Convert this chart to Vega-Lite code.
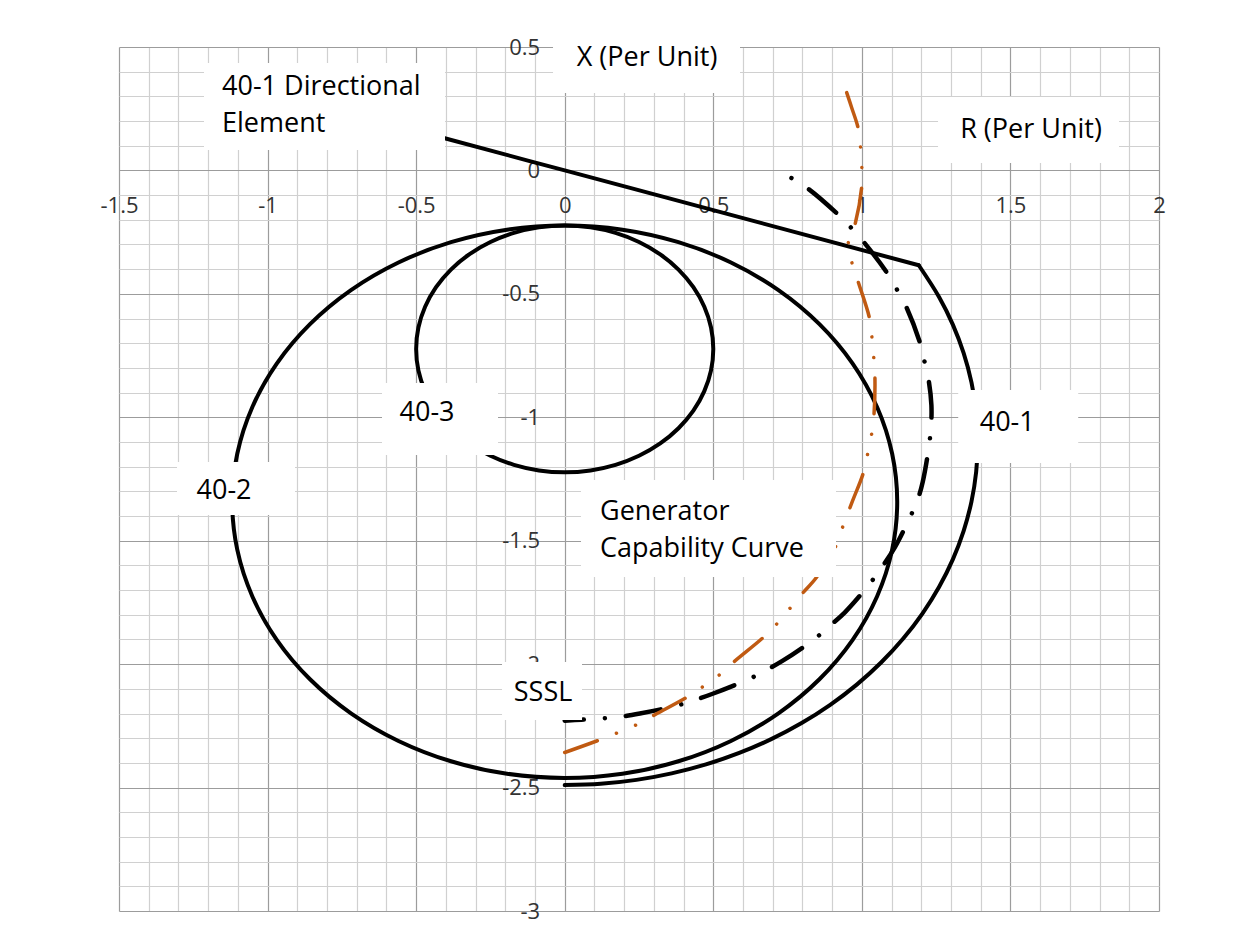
{
  "$schema": "https://vega.github.io/schema/vega-lite/v6.json",
  "width": 1040,
  "height": 864,
  "autosize": {"type": "none"},
  "padding": {"left": 119, "top": 47, "right": 92, "bottom": 26},
  "background": "white",
  "config": {"view": {"stroke": null}, "font": "Open Sans"},
  "datasets": {
    "curves": [
      {"curve": "40-2", "i": 0, "R": 0, "X": -0.223},
      {"curve": "40-2", "i": 1, "R": 0.1943, "X": -0.24},
      {"curve": "40-2", "i": 2, "R": 0.3827, "X": -0.2905},
      {"curve": "40-2", "i": 3, "R": 0.5595, "X": -0.3729},
      {"curve": "40-2", "i": 4, "R": 0.7193, "X": -0.4848},
      {"curve": "40-2", "i": 5, "R": 0.8572, "X": -0.6227},
      {"curve": "40-2", "i": 6, "R": 0.9691, "X": -0.7825},
      {"curve": "40-2", "i": 7, "R": 1.0515, "X": -0.9593},
      {"curve": "40-2", "i": 8, "R": 1.102, "X": -1.1477},
      {"curve": "40-2", "i": 9, "R": 1.119, "X": -1.342},
      {"curve": "40-2", "i": 10, "R": 1.102, "X": -1.5363},
      {"curve": "40-2", "i": 11, "R": 1.0515, "X": -1.7247},
      {"curve": "40-2", "i": 12, "R": 0.9691, "X": -1.9015},
      {"curve": "40-2", "i": 13, "R": 0.8572, "X": -2.0613},
      {"curve": "40-2", "i": 14, "R": 0.7193, "X": -2.1992},
      {"curve": "40-2", "i": 15, "R": 0.5595, "X": -2.3111},
      {"curve": "40-2", "i": 16, "R": 0.3827, "X": -2.3935},
      {"curve": "40-2", "i": 17, "R": 0.1943, "X": -2.444},
      {"curve": "40-2", "i": 18, "R": 0, "X": -2.461},
      {"curve": "40-2", "i": 19, "R": -0.1943, "X": -2.444},
      {"curve": "40-2", "i": 20, "R": -0.3827, "X": -2.3935},
      {"curve": "40-2", "i": 21, "R": -0.5595, "X": -2.3111},
      {"curve": "40-2", "i": 22, "R": -0.7193, "X": -2.1992},
      {"curve": "40-2", "i": 23, "R": -0.8572, "X": -2.0613},
      {"curve": "40-2", "i": 24, "R": -0.9691, "X": -1.9015},
      {"curve": "40-2", "i": 25, "R": -1.0515, "X": -1.7247},
      {"curve": "40-2", "i": 26, "R": -1.102, "X": -1.5363},
      {"curve": "40-2", "i": 27, "R": -1.119, "X": -1.342},
      {"curve": "40-2", "i": 28, "R": -1.102, "X": -1.1477},
      {"curve": "40-2", "i": 29, "R": -1.0515, "X": -0.9593},
      {"curve": "40-2", "i": 30, "R": -0.9691, "X": -0.7825},
      {"curve": "40-2", "i": 31, "R": -0.8572, "X": -0.6227},
      {"curve": "40-2", "i": 32, "R": -0.7193, "X": -0.4848},
      {"curve": "40-2", "i": 33, "R": -0.5595, "X": -0.3729},
      {"curve": "40-2", "i": 34, "R": -0.3827, "X": -0.2905},
      {"curve": "40-2", "i": 35, "R": -0.1943, "X": -0.24},
      {"curve": "40-3", "i": 0, "R": 0, "X": -0.223},
      {"curve": "40-3", "i": 1, "R": 0.0868, "X": -0.2306},
      {"curve": "40-3", "i": 2, "R": 0.171, "X": -0.2532},
      {"curve": "40-3", "i": 3, "R": 0.25, "X": -0.29},
      {"curve": "40-3", "i": 4, "R": 0.3214, "X": -0.34},
      {"curve": "40-3", "i": 5, "R": 0.383, "X": -0.4016},
      {"curve": "40-3", "i": 6, "R": 0.433, "X": -0.473},
      {"curve": "40-3", "i": 7, "R": 0.4698, "X": -0.552},
      {"curve": "40-3", "i": 8, "R": 0.4924, "X": -0.6362},
      {"curve": "40-3", "i": 9, "R": 0.5, "X": -0.723},
      {"curve": "40-3", "i": 10, "R": 0.4924, "X": -0.8098},
      {"curve": "40-3", "i": 11, "R": 0.4698, "X": -0.894},
      {"curve": "40-3", "i": 12, "R": 0.433, "X": -0.973},
      {"curve": "40-3", "i": 13, "R": 0.383, "X": -1.0444},
      {"curve": "40-3", "i": 14, "R": 0.3214, "X": -1.106},
      {"curve": "40-3", "i": 15, "R": 0.25, "X": -1.156},
      {"curve": "40-3", "i": 16, "R": 0.171, "X": -1.1928},
      {"curve": "40-3", "i": 17, "R": 0.0868, "X": -1.2154},
      {"curve": "40-3", "i": 18, "R": 0, "X": -1.223},
      {"curve": "40-3", "i": 19, "R": -0.0868, "X": -1.2154},
      {"curve": "40-3", "i": 20, "R": -0.171, "X": -1.1928},
      {"curve": "40-3", "i": 21, "R": -0.25, "X": -1.156},
      {"curve": "40-3", "i": 22, "R": -0.3214, "X": -1.106},
      {"curve": "40-3", "i": 23, "R": -0.383, "X": -1.0444},
      {"curve": "40-3", "i": 24, "R": -0.433, "X": -0.973},
      {"curve": "40-3", "i": 25, "R": -0.4698, "X": -0.894},
      {"curve": "40-3", "i": 26, "R": -0.4924, "X": -0.8098},
      {"curve": "40-3", "i": 27, "R": -0.5, "X": -0.723},
      {"curve": "40-3", "i": 28, "R": -0.4924, "X": -0.6362},
      {"curve": "40-3", "i": 29, "R": -0.4698, "X": -0.552},
      {"curve": "40-3", "i": 30, "R": -0.433, "X": -0.473},
      {"curve": "40-3", "i": 31, "R": -0.383, "X": -0.4016},
      {"curve": "40-3", "i": 32, "R": -0.3214, "X": -0.34},
      {"curve": "40-3", "i": 33, "R": -0.25, "X": -0.29},
      {"curve": "40-3", "i": 34, "R": -0.171, "X": -0.2532},
      {"curve": "40-3", "i": 35, "R": -0.0868, "X": -0.2306},
      {"curve": "40-1 Directional", "i": 0, "R": -0.41, "X": 0.1322},
      {"curve": "40-1 Directional", "i": 1, "R": 0, "X": 0},
      {"curve": "40-1 Directional", "i": 2, "R": 1.1915, "X": -0.3841},
      {"curve": "40-1", "i": 0, "R": 1.1915, "X": -0.3841},
      {"curve": "40-1", "i": 1, "R": 1.2598, "X": -0.5126},
      {"curve": "40-1", "i": 2, "R": 1.3062, "X": -0.6246},
      {"curve": "40-1", "i": 3, "R": 1.3426, "X": -0.7403},
      {"curve": "40-1", "i": 4, "R": 1.3689, "X": -0.8586},
      {"curve": "40-1", "i": 5, "R": 1.3847, "X": -0.9789},
      {"curve": "40-1", "i": 6, "R": 1.39, "X": -1.1},
      {"curve": "40-1", "i": 7, "R": 1.3847, "X": -1.2211},
      {"curve": "40-1", "i": 8, "R": 1.3689, "X": -1.3414},
      {"curve": "40-1", "i": 9, "R": 1.3426, "X": -1.4597},
      {"curve": "40-1", "i": 10, "R": 1.3062, "X": -1.5754},
      {"curve": "40-1", "i": 11, "R": 1.2598, "X": -1.6874},
      {"curve": "40-1", "i": 12, "R": 1.2038, "X": -1.795},
      {"curve": "40-1", "i": 13, "R": 1.1386, "X": -1.8973},
      {"curve": "40-1", "i": 14, "R": 1.0648, "X": -1.9935},
      {"curve": "40-1", "i": 15, "R": 0.9829, "X": -2.0829},
      {"curve": "40-1", "i": 16, "R": 0.8935, "X": -2.1648},
      {"curve": "40-1", "i": 17, "R": 0.7973, "X": -2.2386},
      {"curve": "40-1", "i": 18, "R": 0.695, "X": -2.3038},
      {"curve": "40-1", "i": 19, "R": 0.5874, "X": -2.3598},
      {"curve": "40-1", "i": 20, "R": 0.4754, "X": -2.4062},
      {"curve": "40-1", "i": 21, "R": 0.3597, "X": -2.4426},
      {"curve": "40-1", "i": 22, "R": 0.2414, "X": -2.4689},
      {"curve": "40-1", "i": 23, "R": 0.1211, "X": -2.4847},
      {"curve": "40-1", "i": 24, "R": 0, "X": -2.49},
      {"curve": "Generator Capability Curve", "i": 0, "R": 0.763, "X": -0.031},
      {"curve": "Generator Capability Curve", "i": 1, "R": 0.818, "X": -0.073},
      {"curve": "Generator Capability Curve", "i": 2, "R": 0.916, "X": -0.174},
      {"curve": "Generator Capability Curve", "i": 3, "R": 0.963, "X": -0.231},
      {"curve": "Generator Capability Curve", "i": 4, "R": 1.007, "X": -0.291},
      {"curve": "Generator Capability Curve", "i": 5, "R": 1.083, "X": -0.412},
      {"curve": "Generator Capability Curve", "i": 6, "R": 1.117, "X": -0.48},
      {"curve": "Generator Capability Curve", "i": 7, "R": 1.15, "X": -0.554},
      {"curve": "Generator Capability Curve", "i": 8, "R": 1.195, "X": -0.696},
      {"curve": "Generator Capability Curve", "i": 9, "R": 1.21, "X": -0.77},
      {"curve": "Generator Capability Curve", "i": 10, "R": 1.225, "X": -0.851},
      {"curve": "Generator Capability Curve", "i": 11, "R": 1.234, "X": -0.95},
      {"curve": "Generator Capability Curve", "i": 12, "R": 1.233, "X": -1.034},
      {"curve": "Generator Capability Curve", "i": 13, "R": 1.226, "X": -1.115},
      {"curve": "Generator Capability Curve", "i": 14, "R": 1.205, "X": -1.261},
      {"curve": "Generator Capability Curve", "i": 15, "R": 1.186, "X": -1.34},
      {"curve": "Generator Capability Curve", "i": 16, "R": 1.158, "X": -1.415},
      {"curve": "Generator Capability Curve", "i": 17, "R": 1.111, "X": -1.527},
      {"curve": "Generator Capability Curve", "i": 18, "R": 1.064, "X": -1.613},
      {"curve": "Generator Capability Curve", "i": 19, "R": 1.024, "X": -1.678},
      {"curve": "Generator Capability Curve", "i": 20, "R": 0.943, "X": -1.79},
      {"curve": "Generator Capability Curve", "i": 21, "R": 0.891, "X": -1.846},
      {"curve": "Generator Capability Curve", "i": 22, "R": 0.842, "X": -1.897},
      {"curve": "Generator Capability Curve", "i": 23, "R": 0.734, "X": -1.986},
      {"curve": "Generator Capability Curve", "i": 24, "R": 0.68, "X": -2.023},
      {"curve": "Generator Capability Curve", "i": 25, "R": 0.623, "X": -2.059},
      {"curve": "Generator Capability Curve", "i": 26, "R": 0.498, "X": -2.12},
      {"curve": "Generator Capability Curve", "i": 27, "R": 0.441, "X": -2.144},
      {"curve": "Generator Capability Curve", "i": 28, "R": 0.377, "X": -2.168},
      {"curve": "Generator Capability Curve", "i": 29, "R": 0.253, "X": -2.2},
      {"curve": "Generator Capability Curve", "i": 30, "R": 0.189, "X": -2.213},
      {"curve": "Generator Capability Curve", "i": 31, "R": 0.124, "X": -2.22},
      {"curve": "Generator Capability Curve", "i": 32, "R": 0.056, "X": -2.225},
      {"curve": "Generator Capability Curve", "i": 33, "R": 0, "X": -2.229},
      {"curve": "SSSL", "i": 0, "R": 0.949, "X": 0.315},
      {"curve": "SSSL", "i": 1, "R": 0.965, "X": 0.257},
      {"curve": "SSSL", "i": 2, "R": 0.988, "X": 0.169},
      {"curve": "SSSL", "i": 3, "R": 0.996, "X": 0.088},
      {"curve": "SSSL", "i": 4, "R": 1.0, "X": 0.007},
      {"curve": "SSSL", "i": 5, "R": 0.999, "X": -0.072},
      {"curve": "SSSL", "i": 6, "R": 0.976, "X": -0.223},
      {"curve": "SSSL", "i": 7, "R": 0.954, "X": -0.297},
      {"curve": "SSSL", "i": 8, "R": 0.967, "X": -0.376},
      {"curve": "SSSL", "i": 9, "R": 0.988, "X": -0.453},
      {"curve": "SSSL", "i": 10, "R": 1.025, "X": -0.595},
      {"curve": "SSSL", "i": 11, "R": 1.034, "X": -0.676},
      {"curve": "SSSL", "i": 12, "R": 1.04, "X": -0.757},
      {"curve": "SSSL", "i": 13, "R": 1.044, "X": -0.838},
      {"curve": "SSSL", "i": 14, "R": 1.041, "X": -0.986},
      {"curve": "SSSL", "i": 15, "R": 1.033, "X": -1.067},
      {"curve": "SSSL", "i": 16, "R": 1.019, "X": -1.151},
      {"curve": "SSSL", "i": 17, "R": 1.004, "X": -1.229},
      {"curve": "SSSL", "i": 18, "R": 0.969, "X": -1.338},
      {"curve": "SSSL", "i": 19, "R": 0.935, "X": -1.446},
      {"curve": "SSSL", "i": 20, "R": 0.913, "X": -1.52},
      {"curve": "SSSL", "i": 21, "R": 0.847, "X": -1.649},
      {"curve": "SSSL", "i": 22, "R": 0.8, "X": -1.713},
      {"curve": "SSSL", "i": 23, "R": 0.758, "X": -1.774},
      {"curve": "SSSL", "i": 24, "R": 0.713, "X": -1.838},
      {"curve": "SSSL", "i": 25, "R": 0.668, "X": -1.892},
      {"curve": "SSSL", "i": 26, "R": 0.567, "X": -1.993},
      {"curve": "SSSL", "i": 27, "R": 0.52, "X": -2.044},
      {"curve": "SSSL", "i": 28, "R": 0.464, "X": -2.092},
      {"curve": "SSSL", "i": 29, "R": 0.41, "X": -2.135},
      {"curve": "SSSL", "i": 30, "R": 0.297, "X": -2.209},
      {"curve": "SSSL", "i": 31, "R": 0.239, "X": -2.247},
      {"curve": "SSSL", "i": 32, "R": 0.176, "X": -2.279},
      {"curve": "SSSL", "i": 33, "R": 0.115, "X": -2.308},
      {"curve": "SSSL", "i": 34, "R": 0, "X": -2.358}
    ],
    "labels": [
      {"label": "40-1 Directional\nElement", "multi": true, "R": -1.1533, "X": 0.3378},
      {"label": "Generator\nCapability Curve", "multi": true, "R": 0.1188, "X": -1.3838},
      {"label": "X (Per Unit)", "multi": false, "R": 0.277, "X": 0.4553},
      {"label": "R (Per Unit)", "multi": false, "R": 1.5693, "X": 0.1637},
      {"label": "40-3", "multi": false, "R": -0.4634, "X": -0.9828},
      {"label": "40-1", "multi": false, "R": 1.4892, "X": -1.0232},
      {"label": "40-2", "multi": false, "R": -1.1466, "X": -1.2987},
      {"label": "SSSL", "multi": false, "R": -0.073, "X": -2.117}
    ]
  },
  "layer": [
    {
      "data": {"name": "curves"},
      "transform": [{"filter": "datum.curve === '40-2' || datum.curve === '40-3'"}],
      "mark": {"type": "line", "interpolate": "cardinal-closed", "stroke": "black", "strokeWidth": 4},
      "encoding": {
        "x": {
          "field": "R", "type": "quantitative",
          "scale": {"domain": [-1.5, 2], "nice": false, "zero": false},
          "axis": {
            "orient": "bottom", "offset": -740.6, "title": null, "tickCount": 200,
            "values": [-1.5,-1.4,-1.3,-1.2,-1.1,-1,-0.9,-0.8,-0.7,-0.6,-0.5,-0.4,-0.3,-0.2,-0.1,0,0.1,0.2,0.3,0.4,0.5,0.6,0.7,0.8,0.9,1,1.1,1.2,1.3,1.4,1.5,1.6,1.7,1.8,1.9,2],
            "grid": true,
            "gridColor": {"condition": {"test": "abs(datum.value*2-round(datum.value*2))<1e-6", "value": "#9c9c9c"}, "value": "#d0d0d0"},
            "gridWidth": 1.2,
            "domain": false, "ticks": false,
            "labelExpr": "abs(datum.value*2-round(datum.value*2))<1e-6 ? ''+datum.value : ''",
            "labelPadding": 35, "labelBaseline": "middle", "labelAlign": "center",
            "labelFontSize": 22, "labelFont": "Open Sans", "labelColor": "#333333",
            "labelOverlap": false, "labelFlush": false, "labelBound": false
          }
        },
        "y": {
          "field": "X", "type": "quantitative",
          "scale": {"domain": [-3, 0.5], "nice": false, "zero": false},
          "axis": {
            "orient": "left", "offset": -445.7, "title": null, "tickCount": 200,
            "values": [-3,-2.9,-2.8,-2.7,-2.6,-2.5,-2.4,-2.3,-2.2,-2.1,-2,-1.9,-1.8,-1.7,-1.6,-1.5,-1.4,-1.3,-1.2,-1.1,-1,-0.9,-0.8,-0.7,-0.6,-0.5,-0.4,-0.3,-0.2,-0.1,0,0.1,0.2,0.3,0.4,0.5],
            "grid": true,
            "gridColor": {"condition": {"test": "abs(datum.value*2-round(datum.value*2))<1e-6", "value": "#9c9c9c"}, "value": "#d0d0d0"},
            "gridWidth": 1.2,
            "domain": false, "ticks": false,
            "labelExpr": "abs(datum.value*2-round(datum.value*2))<1e-6 ? ''+datum.value : ''",
            "labelPadding": 25, "labelBaseline": "middle", "labelAlign": "right",
            "labelFontSize": 22, "labelFont": "Open Sans", "labelColor": "#333333",
            "labelOverlap": false, "labelFlush": false, "labelBound": false
          }
        },
        "detail": {"field": "curve"},
        "order": {"field": "i", "type": "quantitative"}
      }
    },
    {
      "data": {"name": "curves"},
      "transform": [{"filter": "datum.curve === '40-1' || datum.curve === '40-1 Directional'"}],
      "mark": {"type": "line", "interpolate": "catmull-rom", "stroke": "black", "strokeWidth": 4, "strokeCap": "round"},
      "encoding": {
        "x": {"field": "R", "type": "quantitative"},
        "y": {"field": "X", "type": "quantitative"},
        "detail": {"field": "curve"},
        "order": {"field": "i", "type": "quantitative"}
      }
    },
    {
      "data": {"name": "curves"},
      "transform": [{"filter": "datum.curve === 'Generator Capability Curve'"}],
      "mark": {"type": "line", "interpolate": "catmull-rom", "stroke": "black", "strokeWidth": 4.5, "strokeCap": "round", "strokeDash": [0.01, 21, 35.5, 21]},
      "encoding": {
        "x": {"field": "R", "type": "quantitative"},
        "y": {"field": "X", "type": "quantitative"},
        "order": {"field": "i", "type": "quantitative"}
      }
    },
    {
      "data": {"name": "curves"},
      "transform": [{"filter": "datum.curve === 'SSSL'"}],
      "mark": {"type": "line", "interpolate": "catmull-rom", "stroke": "#c05a12", "strokeWidth": 3.5, "strokeCap": "round", "strokeDash": [35.5, 20.7, 0.01, 20.7, 0.01, 20.7]},
      "encoding": {
        "x": {"field": "R", "type": "quantitative"},
        "y": {"field": "X", "type": "quantitative"},
        "order": {"field": "i", "type": "quantitative"}
      }
    },
    {
      "data": {"name": "labels"},
      "transform": [{"filter": "datum.label === '40-1 Directional\\nElement'"}],
      "mark": {"type": "rect", "fill": "white", "xOffset": -18, "x2Offset": 223, "yOffset": -24, "y2Offset": 63},
      "encoding": {"x": {"field": "R", "type": "quantitative"}, "x2": {"field": "R"}, "y": {"field": "X", "type": "quantitative"}, "y2": {"field": "X"}}
    },
    {
      "data": {"name": "labels"},
      "transform": [{"filter": "datum.label === 'Generator\\nCapability Curve'"}],
      "mark": {"type": "rect", "fill": "white", "xOffset": -19, "x2Offset": 236, "yOffset": -32, "y2Offset": 65},
      "encoding": {"x": {"field": "R", "type": "quantitative"}, "x2": {"field": "R"}, "y": {"field": "X", "type": "quantitative"}, "y2": {"field": "X"}}
    },
    {
      "data": {"name": "labels"},
      "transform": [{"filter": "datum.label === 'X (Per Unit)'"}],
      "mark": {"type": "rect", "fill": "white", "xOffset": -94, "x2Offset": 93, "yOffset": -35, "y2Offset": 35},
      "encoding": {"x": {"field": "R", "type": "quantitative"}, "x2": {"field": "R"}, "y": {"field": "X", "type": "quantitative"}, "y2": {"field": "X"}}
    },
    {
      "data": {"name": "labels"},
      "transform": [{"filter": "datum.label === 'R (Per Unit)'"}],
      "mark": {"type": "rect", "fill": "white", "xOffset": -93, "x2Offset": 88, "yOffset": -33, "y2Offset": 33},
      "encoding": {"x": {"field": "R", "type": "quantitative"}, "x2": {"field": "R"}, "y": {"field": "X", "type": "quantitative"}, "y2": {"field": "X"}}
    },
    {
      "data": {"name": "labels"},
      "transform": [{"filter": "datum.label === '40-3'"}],
      "mark": {"type": "rect", "fill": "white", "xOffset": -45, "x2Offset": 71, "yOffset": -30, "y2Offset": 42},
      "encoding": {"x": {"field": "R", "type": "quantitative"}, "x2": {"field": "R"}, "y": {"field": "X", "type": "quantitative"}, "y2": {"field": "X"}}
    },
    {
      "data": {"name": "labels"},
      "transform": [{"filter": "datum.label === '40-1'"}],
      "mark": {"type": "rect", "fill": "white", "xOffset": -49, "x2Offset": 71, "yOffset": -33, "y2Offset": 40},
      "encoding": {"x": {"field": "R", "type": "quantitative"}, "x2": {"field": "R"}, "y": {"field": "X", "type": "quantitative"}, "y2": {"field": "X"}}
    },
    {
      "data": {"name": "labels"},
      "transform": [{"filter": "datum.label === '40-2'"}],
      "mark": {"type": "rect", "fill": "white", "xOffset": -47, "x2Offset": 71, "yOffset": -29, "y2Offset": 24},
      "encoding": {"x": {"field": "R", "type": "quantitative"}, "x2": {"field": "R"}, "y": {"field": "X", "type": "quantitative"}, "y2": {"field": "X"}}
    },
    {
      "data": {"name": "labels"},
      "transform": [{"filter": "datum.label === 'SSSL'"}],
      "mark": {"type": "rect", "fill": "white", "xOffset": -41, "x2Offset": 39, "yOffset": -31, "y2Offset": 27},
      "encoding": {"x": {"field": "R", "type": "quantitative"}, "x2": {"field": "R"}, "y": {"field": "X", "type": "quantitative"}, "y2": {"field": "X"}}
    },
    {
      "data": {"name": "labels"},
      "transform": [{"filter": "!datum.multi"}],
      "mark": {"type": "text", "align": "center", "baseline": "middle", "font": "Open Sans", "fontSize": 27, "color": "black"},
      "encoding": {"x": {"field": "R", "type": "quantitative"}, "y": {"field": "X", "type": "quantitative"}, "text": {"field": "label"}}
    },
    {
      "data": {"name": "labels"},
      "transform": [{"filter": "datum.multi"}],
      "mark": {"type": "text", "align": "left", "baseline": "middle", "font": "Open Sans", "fontSize": 27, "color": "black", "lineBreak": "\n", "lineHeight": 37},
      "encoding": {"x": {"field": "R", "type": "quantitative"}, "y": {"field": "X", "type": "quantitative"}, "text": {"field": "label"}}
    }
  ]
}
